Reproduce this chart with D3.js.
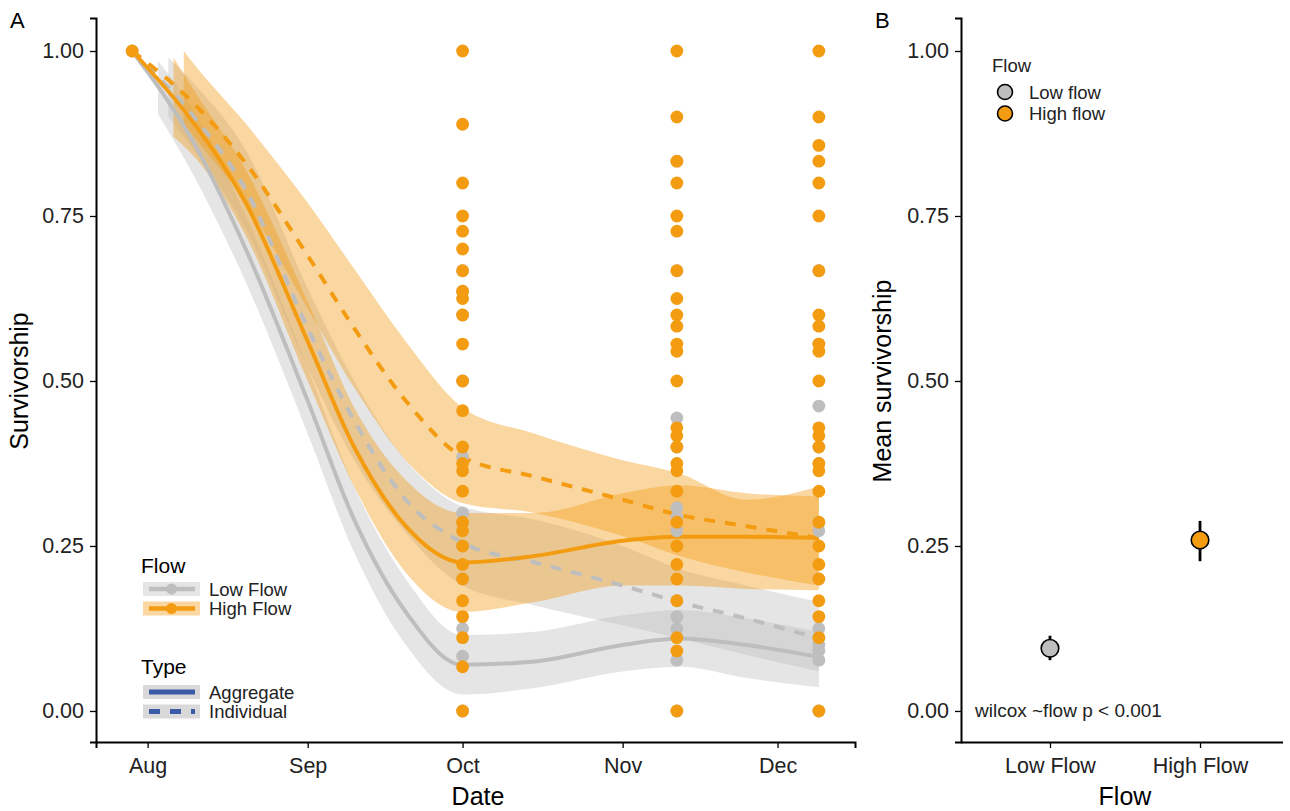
<!DOCTYPE html>
<html><head><meta charset="utf-8">
<script src="https://cdn.jsdelivr.net/npm/d3@7"></script>
<style>body{margin:0;background:#fff} svg{display:block} text{font-family:"Liberation Sans",Arial,Helvetica,sans-serif}</style>
</head><body><svg id="c" width="1290" height="811"></svg>
<script>
// ---------------- DATA ----------------
const flows = ["Low Flow", "High Flow"];
const flowLegendB = ["Low flow", "High flow"];
const types = ["Aggregate", "Individual"];
const monthTicks = ["2019-08-01", "2019-09-01", "2019-10-01", "2019-11-01", "2019-12-01"];
const yTicks = [0, 0.25, 0.5, 0.75, 1];

// smoothed curves (panel A)
const lineDates = ["2019-07-29","2019-08-10","2019-08-20","2019-09-01","2019-09-10","2019-09-20","2019-10-01","2019-10-15","2019-11-01","2019-11-12","2019-11-25","2019-12-09"];
const lowAggregate   = [1.00, 0.86, 0.70, 0.47, 0.29, 0.15, 0.07, 0.075, 0.10, 0.11, 0.10, 0.082];
const lowIndividual  = [1.00, 0.90, 0.79, 0.58, 0.44, 0.32, 0.255, 0.225, 0.19, 0.165, 0.14, 0.11];
const highAggregate  = [1.00, 0.89, 0.77, 0.56, 0.40, 0.28, 0.225, 0.235, 0.258, 0.264, 0.264, 0.262];
const highIndividual = [1.00, 0.92, 0.83, 0.69, 0.58, 0.47, 0.385, 0.355, 0.32, 0.297, 0.28, 0.262];

// confidence ribbons (first date differs per curve, rest = lineDates[1..])
const lowAggStart = "2019-08-03", lowIndStart = "2019-08-05", highAggStart = "2019-08-06", highIndStart = "2019-08-08";
const lowAggLo  = [0.905, 0.81, 0.65, 0.42, 0.24, 0.10, 0.025, 0.035, 0.06, 0.067, 0.05, 0.036];
const lowAggHi  = [0.985, 0.91, 0.75, 0.52, 0.34, 0.20, 0.115, 0.12, 0.145, 0.153, 0.14, 0.12];
const lowIndLo  = [0.90, 0.85, 0.73, 0.52, 0.38, 0.27, 0.19, 0.16, 0.13, 0.11, 0.085, 0.06];
const lowIndHi  = [0.99, 0.95, 0.85, 0.64, 0.50, 0.38, 0.31, 0.29, 0.25, 0.215, 0.19, 0.165];
const highAggLo = [0.87, 0.84, 0.72, 0.50, 0.34, 0.21, 0.15, 0.165, 0.19, 0.19, 0.185, 0.183];
const highAggHi = [0.99, 0.94, 0.82, 0.62, 0.46, 0.35, 0.30, 0.30, 0.33, 0.342, 0.33, 0.325];
const highIndLo = [0.89, 0.87, 0.77, 0.61, 0.49, 0.38, 0.315, 0.30, 0.265, 0.235, 0.21, 0.19];
const highIndHi = [1.0, 0.98, 0.89, 0.77, 0.67, 0.56, 0.46, 0.42, 0.38, 0.36, 0.32, 0.34];

// observed points
const startDate = "2019-07-29";
const startValue = 1.0;
const sampleDates = ["2019-10-01T00:00Z", "2019-11-11T12:00Z", "2019-12-09T00:00Z"];
const lowOct  = [0.667, 0.636, 0.6, 0.5, 0.385, 0.3, 0.25, 0.2, 0.125, 0.083, 0];
const lowNov  = [0.833, 0.667, 0.444, 0.4, 0.308, 0.294, 0.273, 0.167, 0.143, 0.125, 0.077, 0];
const lowDec  = [0.667, 0.556, 0.462, 0.4, 0.375, 0.286, 0.273, 0.2, 0.125, 0.111, 0.1, 0.091, 0.077, 0];
const highOct = [1, 0.889, 0.8, 0.75, 0.727, 0.7, 0.667, 0.636, 0.625, 0.6, 0.556, 0.5, 0.455, 0.4, 0.375, 0.364, 0.333, 0.286, 0.273, 0.25, 0.222, 0.2, 0.167, 0.143, 0.111, 0.067, 0];
const highNov = [1, 0.9, 0.833, 0.8, 0.75, 0.727, 0.667, 0.625, 0.6, 0.583, 0.556, 0.545, 0.5, 0.429, 0.417, 0.4, 0.375, 0.364, 0.333, 0.286, 0.25, 0.222, 0.2, 0.167, 0.111, 0.091, 0];
const highDec = [1, 0.9, 0.857, 0.833, 0.8, 0.75, 0.667, 0.6, 0.583, 0.556, 0.545, 0.5, 0.429, 0.417, 0.4, 0.375, 0.364, 0.333, 0.286, 0.25, 0.222, 0.2, 0.167, 0.143, 0.111, 0];

// panel B: mean survivorship +- error
const meanValues = [0.095, 0.259];
const meanLower  = [0.077, 0.227];
const meanUpper  = [0.114, 0.288];
const annotation = "wilcox ~flow p < 0.001";

// ---------------- STYLE ----------------
const GRAY = "#BEBEBE", ORANGE = "#F39C12", BLUE = "#3B5BA9";
const FONT = '"Liberation Sans",Arial,sans-serif';
const flowColor = {"Low Flow": GRAY, "High Flow": ORANGE};
const svg = d3.select("#c");
const parse = s => new Date(s);

// ---------------- PANEL A ----------------
const x = d3.scaleUtc().domain([new Date("2019-07-22"), new Date("2019-12-16")]).range([96, 855]);
const y = d3.scaleLinear().domain([-0.047, 1.05]).range([742, 18]);

svg.append("defs").append("clipPath").attr("id","clipA")
  .append("rect").attr("x",96).attr("y",18).attr("width",759).attr("height",724);

const gA = svg.append("g").attr("clip-path","url(#clipA)");

function ribbonData(start, lo, hi){
  const ds = [start].concat(lineDates.slice(1));
  return ds.map((d,i)=>({d:parse(d), lo:lo[i], hi:hi[i]}));
}
const area = d3.area().x(d=>x(d.d)).y0(d=>y(d.lo)).y1(d=>y(d.hi)).curve(d3.curveMonotoneX);
const ribbons = [
  {data: ribbonData(lowAggStart, lowAggLo, lowAggHi), c: GRAY},
  {data: ribbonData(lowIndStart, lowIndLo, lowIndHi), c: GRAY},
  {data: ribbonData(highAggStart, highAggLo, highAggHi), c: ORANGE},
  {data: ribbonData(highIndStart, highIndLo, highIndHi), c: ORANGE}
];
ribbons.forEach(r=>{
  gA.append("path").attr("d", area(r.data)).attr("fill", r.c).attr("fill-opacity", 0.4);
});

const line = d3.line().x(d=>x(d.d)).y(d=>y(d.v)).curve(d3.curveMonotoneX);
const curves = [
  {v: lowIndividual, c: GRAY, dash: "11,10"},
  {v: lowAggregate, c: GRAY, dash: null},
  {v: highIndividual, c: ORANGE, dash: "11,10"},
  {v: highAggregate, c: ORANGE, dash: null}
];
curves.forEach(cv=>{
  const data = lineDates.map((d,i)=>({d:parse(d), v:cv.v[i]}));
  gA.append("path").attr("d", line(data)).attr("fill","none").attr("stroke", cv.c)
    .attr("stroke-width", 4).attr("stroke-dasharray", cv.dash);
});

// points
const ptsLow = [{d:startDate, v:[startValue]}, {d:sampleDates[0], v:lowOct}, {d:sampleDates[1], v:lowNov}, {d:sampleDates[2], v:lowDec}];
const ptsHigh = [{d:startDate, v:[startValue]}, {d:sampleDates[0], v:highOct}, {d:sampleDates[1], v:highNov}, {d:sampleDates[2], v:highDec}];
[[ptsLow, GRAY], [ptsHigh, ORANGE]].forEach(([set, col])=>{
  set.forEach(s=>{
    s.v.forEach(v=>{
      svg.append("circle").attr("cx", x(parse(s.d))).attr("cy", y(v)).attr("r", 6.4).attr("fill", col);
    });
  });
});

// axes A
const tickFont = 21.5;
function styleAxis(g){
  g.select(".domain").attr("stroke","#000").attr("stroke-width",2);
  g.selectAll(".tick line").attr("stroke","#000").attr("stroke-width",1.3);
  g.selectAll(".tick text").attr("fill","#222").attr("font-size",tickFont).attr("font-family",FONT);
}
const xAxisA = svg.append("g").attr("transform","translate(0,742)")
  .call(d3.axisBottom(x).tickValues(monthTicks.map(parse)).tickFormat(d3.utcFormat("%b")).tickSizeOuter(0).tickSize(6).tickPadding(6));
const yAxisA = svg.append("g").attr("transform","translate(96,0)")
  .call(d3.axisLeft(y).tickValues(yTicks).tickFormat(d3.format(".2f")).tickSizeOuter(0).tickSize(6).tickPadding(6));
styleAxis(xAxisA); styleAxis(yAxisA);
xAxisA.selectAll(".tick text").attr("dy","0.9em");

svg.append("text").attr("x",478).attr("y",805).attr("text-anchor","middle").attr("font-size",25).text("Date");
svg.append("text").attr("transform","translate(28,381) rotate(-90)").attr("text-anchor","middle").attr("font-size",25).text("Survivorship");
svg.append("text").attr("x",10).attr("y",28).attr("font-size",22).text("A");

// legend A - Flow
svg.append("text").attr("x",141).attr("y",573).attr("font-size",21).text("Flow");
flows.forEach((f,i)=>{
  const yy = 589 + i*19.5;
  svg.append("rect").attr("x",143).attr("y",yy-7).attr("width",57).attr("height",14)
    .attr("fill", flowColor[f]).attr("fill-opacity",0.4);
  svg.append("line").attr("x1",149).attr("x2",195).attr("y1",yy).attr("y2",yy).attr("stroke",flowColor[f]).attr("stroke-width",4.5);
  svg.append("circle").attr("cx",171.5).attr("cy",yy).attr("r",5.5).attr("fill",flowColor[f]);
  svg.append("text").attr("x",209).attr("y",yy+6.5).attr("font-size",18.5).attr("fill","#222").text(f);
});
// legend A - Type
svg.append("text").attr("x",141).attr("y",674).attr("font-size",21).text("Type");
types.forEach((t,i)=>{
  const yy = 692 + i*19.5;
  svg.append("rect").attr("x",143).attr("y",yy-7).attr("width",57).attr("height",14).attr("fill","#D9D9D9");
  svg.append("line").attr("x1",149).attr("x2",195).attr("y1",yy).attr("y2",yy).attr("stroke",BLUE).attr("stroke-width",5)
    .attr("stroke-dasharray", i===1 ? "11,10" : null);
  svg.append("text").attr("x",209).attr("y",yy+6.5).attr("font-size",18.5).attr("fill","#222").text(t);
});

// ---------------- PANEL B ----------------
const xb = d3.scalePoint().domain(flows).range([961, 1289]).padding(0.593);
const yb = y;
const xAxisB = svg.append("g").attr("transform","translate(0,742)")
  .call(d3.axisBottom(xb).tickSizeOuter(0).tickSize(6).tickPadding(6));
xAxisB.select(".domain").attr("d","M961,0.5H1283");
const yAxisB = svg.append("g").attr("transform","translate(961,0)")
  .call(d3.axisLeft(yb).tickValues(yTicks).tickFormat(d3.format(".2f")).tickSizeOuter(0).tickSize(6).tickPadding(6));
styleAxis(xAxisB); styleAxis(yAxisB);
xAxisB.selectAll(".tick text").attr("dy","0.9em");

flows.forEach((f,i)=>{
  svg.append("line").attr("x1",xb(f)).attr("x2",xb(f)).attr("y1",yb(meanLower[i])).attr("y2",yb(meanUpper[i]))
    .attr("stroke","#000").attr("stroke-width",2.8);
  svg.append("circle").attr("cx",xb(f)).attr("cy",yb(meanValues[i])).attr("r",8.8)
    .attr("fill",flowColor[f]).attr("stroke","#000").attr("stroke-width",1.6);
});

svg.append("text").attr("x",1125).attr("y",805).attr("text-anchor","middle").attr("font-size",25).text("Flow");
svg.append("text").attr("transform","translate(891,381) rotate(-90)").attr("text-anchor","middle").attr("font-size",25).text("Mean survivorship");
svg.append("text").attr("x",875).attr("y",28).attr("font-size",22).text("B");
svg.append("text").attr("x",975).attr("y",717).attr("font-size",19).attr("fill","#222").text(annotation);

// legend B
svg.append("text").attr("x",992).attr("y",72).attr("font-size",18.5).attr("fill","#222").text("Flow");
flowLegendB.forEach((t,i)=>{
  const yy = 92 + i*21.5;
  svg.append("circle").attr("cx",1005).attr("cy",yy).attr("r",7.5).attr("fill",flowColor[flows[i]]).attr("stroke","#000").attr("stroke-width",1.6);
  svg.append("text").attr("x",1029).attr("y",yy+6.5).attr("font-size",18.5).attr("fill","#222").text(t);
});
</script></body></html>
